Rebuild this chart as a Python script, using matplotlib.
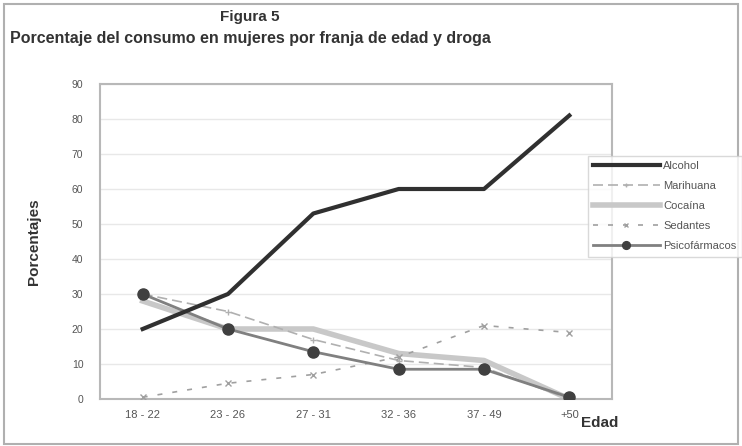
import matplotlib
matplotlib.use('Agg')
import matplotlib.pyplot as plt
import numpy as np

plt.rcParams['font.family'] = ['Liberation Sans', 'DejaVu Sans']

# data
edades = ['18 - 22', '23 - 26', '27 - 31', '32 - 36', '37 - 49', '+50']
alcohol = [20, 30, 53, 60, 60, 81]
marihuana = [30, 25, 17, 11, 9, 0]
cocaina = [28, 20, 20, 13, 11, 0]
sedantes = [0.5, 4.5, 7, 12, 21, 19]
psico = [30, 20, 13.5, 8.5, 8.5, 0.5]

fig = plt.figure(figsize=(7.42, 4.46), dpi=100)
ax = fig.add_axes([100/742, 47/446, 512/742, 315/446])

x = np.arange(len(edades))

ax.plot(x, cocaina, color='#c8c8c8', lw=4, label='Cocaína', zorder=2)
ax.plot(x, marihuana, color='#b0b0b0', lw=1.2, ls=(0, (6, 3)), marker='+', ms=5, label='Marihuana', zorder=3)
ax.plot(x, sedantes, color='#a0a0a0', lw=1.2, ls=(0, (3, 6)), marker='x', ms=4, label='Sedantes', zorder=3)
ax.plot(x, psico, color='#808080', lw=2, marker='o', ms=8, mfc='#404040', mec='#404040', label='Psicofármacos', zorder=4)
ax.plot(x, alcohol, color='#303030', lw=3, label='Alcohol', zorder=5)

ax.set_xlim(-0.5, len(edades) - 0.5)
ax.set_ylim(0, 90)
ax.set_yticks(np.arange(0, 91, 10))
ax.set_xticks(x)
ax.set_xticklabels(edades, fontsize=8, color='#555555')
ax.tick_params(axis='y', labelsize=7.5, labelcolor='#555555', length=0, pad=12)
ax.tick_params(axis='x', length=0, pad=8)
ax.yaxis.grid(True, color='#e8e8e8', lw=1)
ax.set_axisbelow(True)
for s in ax.spines.values():
    s.set_color('#b8b8b8')
    s.set_linewidth(1.5)

ax.set_ylabel('Porcentajes', fontsize=11, fontweight='bold', color='#333333', labelpad=22)
fig.text(600/742, 1 - 423/446, 'Edad', fontsize=11, fontweight='bold', color='#333333', ha='center', va='center')

fig.text(250/742, 1 - 17/446, 'Figura 5', fontsize=11, fontweight='bold', color='#333333', ha='center', va='center')
fig.text(250/742, 1 - 38/446, 'Porcentaje del consumo en mujeres por franja de edad y droga',
         fontsize=11.5, fontweight='bold', color='#333333', ha='center', va='center')

handles, labels = ax.get_legend_handles_labels()
order = ['Alcohol', 'Marihuana', 'Cocaína', 'Sedantes', 'Psicofármacos']
hmap = dict(zip(labels, handles))
leg = fig.legend([hmap[k] for k in order], order, loc='upper left',
                 bbox_to_anchor=(582/742, 1 - 150/446), fontsize=8, frameon=True,
                 fancybox=False, edgecolor='#d0d0d0', handlelength=6, labelspacing=0.9,
                 borderpad=0.5, handletextpad=0.3, markerscale=0.7)
for t in leg.get_texts():
    t.set_color('#555555')

# outer border of the chart area
fig.patches.append(plt.Rectangle((0.005, 0.005), 0.99, 0.985, transform=fig.transFigure,
                                 fill=False, edgecolor='#b0b0b0', lw=1.5))

fig.savefig('out.png', dpi=100)
